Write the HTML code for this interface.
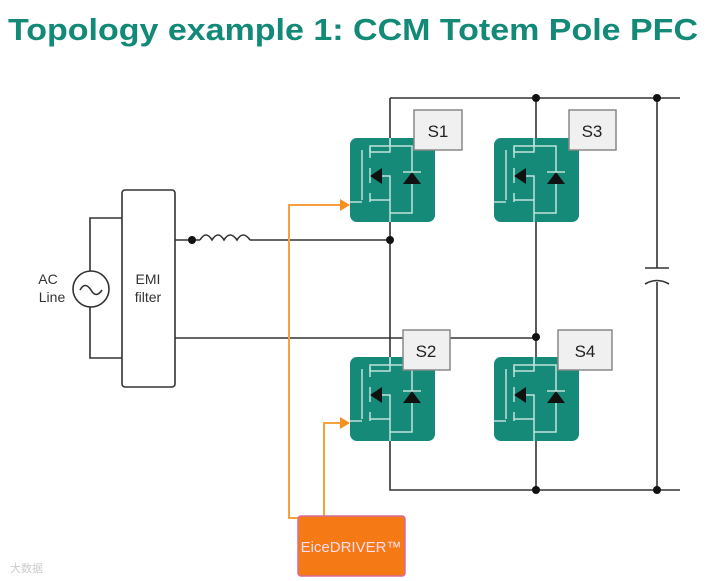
<!DOCTYPE html>
<html><head><meta charset="utf-8"><style>
body{margin:0;background:#fff;width:715px;height:581px;overflow:hidden}
svg{display:block}
</style></head><body>
<svg width="715" height="581" viewBox="0 0 715 581" xmlns="http://www.w3.org/2000/svg">
<defs>
<g id="m">
<rect x="0" y="0" width="85" height="84" rx="7" fill="#168a78"/>
<g stroke="#bfe3dc" stroke-width="1.5" fill="none">
<path d="M40 0 V8 H20 V14 M20 8"/>
<path d="M12 12 V62"/>
<path d="M20 10 V20 M20 30 V45 M20 55 V64"/>
<path d="M20 14 H40 V0"/>
<path d="M20 62 H40 V84"/>
<path d="M20 38 H40 V62"/>
<path d="M0 64 H12"/>
<path d="M40 8 H62 V75 H40"/>
</g>
<polygon points="20,38 32,30 32,46" fill="#111"/>
<polygon points="53,46 71,46 62,34" fill="#111"/>
<line x1="53" y1="34" x2="71" y2="34" stroke="#bfe3dc" stroke-width="1.5"/>
</g>
</defs>
<text x="8" y="40" font-family="Liberation Sans, sans-serif" font-weight="bold" font-size="31" fill="#138a78" textLength="690" lengthAdjust="spacingAndGlyphs">Topology example 1: CCM Totem Pole PFC</text>
<g stroke="#333" stroke-width="1.6" fill="none">
<path d="M390 98 H680 M390 98 V138 M390 222 V357 M390 441 V490 H680"/>
<path d="M536 98 V138 M536 222 V357 M536 441 V490"/>
<path d="M657 98 V268 M657 282 V490"/>
<path d="M645 268 H669 M645 284 Q657 277 669 284"/>
<path d="M175 240 H200 M250 240 H390"/>
<path d="M200 240 q6 -10 12 0 q6 -10 12 0 q6 -10 13 0 q6 -10 13 0"/>
<path d="M175 338 H536"/>
<rect x="122" y="190" width="53" height="197" rx="3"/>
<path d="M122 218 H90 V271 M90 307 V358 H122"/>
<circle cx="91" cy="289" r="18"/>
<path d="M80 290 q5 -9 11 0 q5 9 11 0"/>
</g>
<g fill="#111">
<circle cx="536" cy="98" r="4"/><circle cx="657" cy="98" r="4"/>
<circle cx="390" cy="240" r="4"/><circle cx="192" cy="240" r="4"/>
<circle cx="536" cy="337" r="4"/><circle cx="536" cy="490" r="4"/><circle cx="657" cy="490" r="4"/>
</g>
<use href="#m" x="350" y="138"/>
<use href="#m" x="494" y="138"/>
<use href="#m" x="350" y="357"/>
<use href="#m" x="494" y="357"/>
<g font-family="Liberation Sans, sans-serif" font-size="17" fill="#222">
<rect x="414" y="110" width="48" height="40" fill="#f0f0f0" stroke="#888" stroke-width="1.5"/>
<text x="438" y="137" text-anchor="middle">S1</text>
<rect x="569" y="110" width="47" height="40" fill="#f0f0f0" stroke="#888" stroke-width="1.5"/>
<text x="592" y="137" text-anchor="middle">S3</text>
<rect x="403" y="330" width="47" height="40" fill="#f0f0f0" stroke="#888" stroke-width="1.5"/>
<text x="426" y="357" text-anchor="middle">S2</text>
<rect x="558" y="330" width="54" height="40" fill="#f0f0f0" stroke="#888" stroke-width="1.5"/>
<text x="585" y="357" text-anchor="middle">S4</text>
</g>
<g font-family="Liberation Sans, sans-serif" font-size="14" fill="#333">
<text x="148" y="284" text-anchor="middle">EMI</text>
<text x="148" y="302" text-anchor="middle">filter</text>
<text x="48" y="284" text-anchor="middle">AC</text>
<text x="52" y="302" text-anchor="middle">Line</text>
</g>
<g stroke="#f7a040" stroke-width="2" fill="none">
<path d="M298 518 H289 V205 H342"/>
<path d="M324 516 V423 H342"/>
</g>
<polygon points="350,205 340,199 340,211" fill="#f7901e"/>
<polygon points="350,423 340,417 340,429" fill="#f7901e"/>
<rect x="298" y="516" width="107" height="60" rx="3" fill="#f57a15" stroke="#d96b9a" stroke-width="1.5"/>
<text x="351" y="552" text-anchor="middle" font-family="Liberation Sans, sans-serif" font-size="15" fill="#fde">EiceDRIVER™</text>
<text x="10" y="572" font-family="Liberation Sans, Noto Sans CJK SC, sans-serif" font-size="11" fill="#ccc">大数据</text>
</svg>
</body></html>
